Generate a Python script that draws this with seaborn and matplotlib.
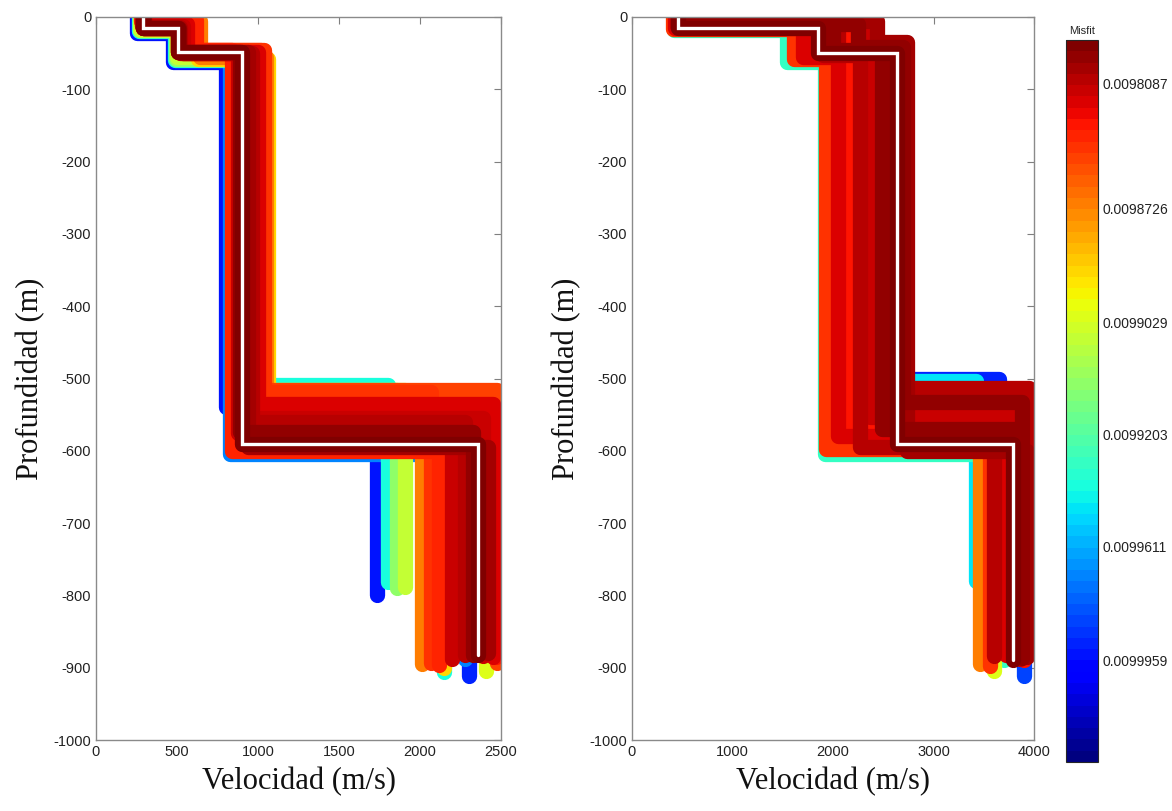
import numpy as np
import pandas as pd
import matplotlib
matplotlib.use("Agg")
import matplotlib.pyplot as plt
import matplotlib.colors as mcolors
import seaborn as sns

# ---------------- Inverted layered models: left site (Vs up to 2500 m/s) ----------------
# four-layer profiles: layer velocities (m/s), interface depths (m), bottom depth, misfit
left_v1 = [255, 265, 270, 272, 290, 295, 280, 282, 285, 280, 282, 270, 284, 286, 288, 292, 294, 290, 283, 288, 290]
left_v2 = [477, 490, 495, 500, 630, 640, 520, 515, 510, 600, 620, 500, 560, 540, 520, 505, 510, 505, 580, 530, 505]
left_v3 = [800, 880, 890, 900, 1060, 1050, 930, 920, 910, 1040, 840, 825, 1000, 875, 960, 940, 890, 900, 1020, 950, 900]
left_v4 = [1735, 1800, 1860, 1910, 2150, 2015, 2300, 2150, 2410, 2070, 2120, 2280, 2450, 2200, 2280, 2420, 2330, 2470, 2475, 2390, 2355]
left_z1 = [22, 20, 18, 18, 8, 5, 15, 15, 15, 6, 4, 16, 10, 12, 14, 15, 15, 15, 10, 15, 15]
left_z2 = [62, 60, 58, 56, 58, 55, 50, 50, 50, 45, 46, 52, 48, 50, 50, 48, 49, 48, 46, 50, 48]
left_z3 = [540, 509, 516, 516, 560, 525, 585, 590, 590, 518, 600, 604, 535, 575, 560, 595, 574, 590, 516, 555, 590]
left_zb = [800, 782, 790, 788, 900, 895, 912, 906, 904, 893, 896, 888, 885, 888, 882, 880, 882, 885, 893, 884, 882]
left_misfit = [0.009995, 0.009940, 0.009912, 0.009905, 0.009890, 0.009870, 0.009990, 0.009940,
               0.009900, 0.009840, 0.009835, 0.009970, 0.009820, 0.009815, 0.009805, 0.009800,
               0.009795, 0.009830, 0.009850, 0.009812, 0.009790]

# ---------------- Inverted layered models: right site (Vs up to 4000 m/s) ----------------
right_v1 = [450, 460, 440, 420, 455, 470, 410, 500, 550, 590, 430, 480, 450, 520, 490, 458]
right_v2 = [1820, 1850, 1800, 1545, 1860, 1880, 1610, 2100, 2400, 2440, 1700, 2000, 1900, 2250, 2050, 1850]
right_v3 = [2660, 2640, 2500, 1925, 2650, 2640, 1935, 2160, 2370, 2740, 2050, 2490, 2270, 2700, 2550, 2637]
right_v4 = [3650, 3900, 3420, 3700, 3600, 3460, 3560, 3900, 3860, 3930, 3720, 3820, 3600, 3880, 3950, 3791]
right_z1 = [15, 15, 15, 18, 15, 12, 16, 8, 6, 5, 15, 10, 13, 9, 11, 15]
right_z2 = [50, 50, 50, 62, 50, 48, 58, 40, 38, 35, 56, 45, 52, 42, 47, 50]
right_z3 = [500, 590, 504, 604, 590, 520, 598, 565, 553, 600, 580, 570, 595, 532, 513, 590]
right_zb = [877, 912, 780, 890, 904, 895, 898, 890, 888, 885, 882, 880, 884, 886, 881, 890]
right_misfit = [0.009990, 0.009985, 0.009945, 0.009930, 0.009900, 0.009870, 0.009840, 0.009830,
                0.009810, 0.009800, 0.009820, 0.009795, 0.009805, 0.009798, 0.009808, 0.009790]

# colour-bar tick values and where they sit along the bar (fraction from the top)
cbar_ticks = [0.0098087, 0.0098726, 0.0099029, 0.0099203, 0.0099611, 0.0099959]
cbar_tick_pos = [0.060, 0.233, 0.391, 0.547, 0.702, 0.859]

left_xticks = [0, 500, 1000, 1500, 2000, 2500]
right_xticks = [0, 1000, 2000, 3000, 4000]
yticks = list(range(-1000, 1, 100))

# ---------------- misfit -> colour scale (piecewise linear through the tick marks) ----------------
m = cbar_ticks
p = cbar_tick_pos
m_lo = m[0] - p[0] * (m[1] - m[0]) / (p[1] - p[0])
m_hi = m[-1] + (1 - p[-1]) * (m[-1] - m[-2]) / (p[-1] - p[-2])
xp = np.array([m_lo] + m + [m_hi])
fp = np.array([0.0] + p + [1.0])


def fwd(x):
    return np.interp(np.asarray(x, dtype=float), xp, fp)


def inv(y):
    return np.interp(np.asarray(y, dtype=float), fp, xp)


norm = mcolors.FuncNorm((fwd, inv), vmin=m_lo, vmax=m_hi)
cmap = plt.get_cmap("jet", 64).reversed()


def model_frame(v1, v2, v3, v4, z1, z2, z3, zb, mis):
    rows = []
    for k in range(len(mis)):
        xs = [v1[k], v1[k], v2[k], v2[k], v3[k], v3[k], v4[k], v4[k]]
        ys = [0, -z1[k], -z1[k], -z2[k], -z2[k], -z3[k], -z3[k], -zb[k]]
        for j, (x, y) in enumerate(zip(xs, ys)):
            rows.append({"model": k, "step": j, "vel": x, "depth": y, "misfit": mis[k]})
    return pd.DataFrame(rows)


left_df = model_frame(left_v1, left_v2, left_v3, left_v4, left_z1, left_z2, left_z3, left_zb, left_misfit)
right_df = model_frame(right_v1, right_v2, right_v3, right_v4, right_z1, right_z2, right_z3, right_zb, right_misfit)

# ---------------- figure ----------------
sns.set_style("white")
plt.rcParams["font.family"] = ["Liberation Sans", "DejaVu Sans"]
plt.rcParams["axes.unicode_minus"] = False

W, H = 1172, 811
fig = plt.figure(figsize=(W / 100, H / 100), dpi=100)
fig.patch.set_facecolor("white")


def rect(x0, y0, x1, y1):
    return [x0 / W, 1 - y1 / H, (x1 - x0) / W, (y1 - y0) / H]


ax_l = fig.add_axes(rect(96, 17, 501, 740))
ax_r = fig.add_axes(rect(632, 17, 1034, 740))
cax = fig.add_axes(rect(1066, 40, 1098, 762))

LW = 11.0
label_font = {"family": "Liberation Serif", "size": 22, "color": "#111111"}


def draw_panel(ax, df, xmax, xticks):
    # worst models first so the best-fitting ones end up on top
    order = df.groupby("model")["misfit"].first().sort_values(ascending=False).index
    best = order[-1]
    for k in order:
        sub = df[df["model"] == k].sort_values("step")
        sns.lineplot(data=sub, x="vel", y="depth", sort=False, estimator=None,
                     color=cmap(norm(sub["misfit"].iloc[0])), lw=LW, ax=ax,
                     solid_joinstyle="round", solid_capstyle="round", legend=False)
    sub = df[df["model"] == best].sort_values("step")
    sns.lineplot(data=sub, x="vel", y="depth", sort=False, estimator=None,
                 color="white", lw=2.4, ax=ax, zorder=5, legend=False,
                 solid_joinstyle="miter")
    ax.set_xlim(0, xmax)
    ax.set_ylim(-1000, 0)
    ax.set_xticks(xticks)
    ax.set_yticks(yticks)
    ax.tick_params(direction="in", length=5, width=0.8, colors="#7f7f7f",
                   labelcolor="#222222", labelsize=10.5, top=True, right=True)
    for s in ax.spines.values():
        s.set_color("#8a8a8a")
        s.set_linewidth(1.0)
        s.set_zorder(10)
    ax.set_xlabel("Velocidad (m/s)", fontdict=label_font, labelpad=6)
    ax.set_ylabel("Profundidad (m)", fontdict=label_font, labelpad=6)


draw_panel(ax_l, left_df, 2500, left_xticks)
draw_panel(ax_r, right_df, 4000, right_xticks)

sm = matplotlib.cm.ScalarMappable(norm=norm, cmap=cmap)
cb = fig.colorbar(sm, cax=cax)
cax.invert_yaxis()
cb.set_ticks(cbar_ticks)
cb.set_ticklabels([f"{t:.7f}" for t in cbar_ticks])
cb.minorticks_off()
cax.tick_params(direction="in", length=7, width=0.8, left=True, right=True,
                labelsize=10, labelcolor="#222222")
cb.outline.set_linewidth(0.8)
cax.set_title("Misfit", fontsize=8, pad=4)

fig.savefig("out.png", dpi=100)
